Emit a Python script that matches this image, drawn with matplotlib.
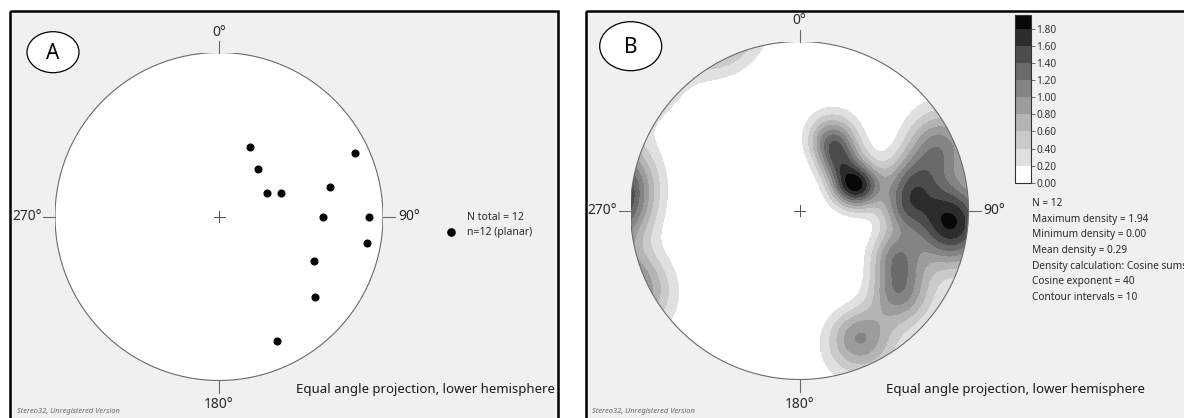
import numpy as np
import matplotlib.pyplot as plt
from matplotlib.patches import Circle, Ellipse, Rectangle

plt.rcParams['font.family'] = ['Noto Sans', 'DejaVu Sans']

W, H = 1184, 418

# planar data: dip direction / dip (degrees)
dip_dir = [204, 219, 244, 249, 245, 255, 270, 270, 280, 295, 310, 335]
dip = [50, 41, 36, 44, 85, 70, 65, 85, 85, 65, 75, 80]

# density contouring (cosine sums)
cos_exponent = 40
density_levels = [0.0, 0.2, 0.4, 0.6, 0.8, 1.0, 1.2, 1.4, 1.6, 1.8]
max_density = 1.94
level_colors = ['#ffffff', '#e0e0e0', '#cacaca', '#b4b4b4', '#9c9c9c',
                '#848484', '#6a6a6a', '#4c4c4c', '#2c2c2c', '#080808']
stats_lines = ['N = 12', 'Maximum density = 1.94', 'Minimum density = 0.00',
               'Mean density = 0.29', 'Density calculation: Cosine sums',
               'Cosine exponent = 40', 'Contour intervals = 10']

TXT = '#2a2a2a'
NET = '#6a6a6a'


def poles(ddir, d):
    trend = np.radians((np.asarray(ddir) + 180) % 360)
    plunge = np.radians(90 - np.asarray(d, dtype=float))
    return trend, plunge


def project(trend, plunge):
    # equal angle (stereographic), lower hemisphere
    r = np.tan((np.pi / 2 - plunge) / 2)
    return r * np.sin(trend), r * np.cos(trend)


def unit_vec(trend, plunge):
    return np.stack([np.cos(plunge) * np.sin(trend),
                     np.cos(plunge) * np.cos(trend),
                     np.sin(plunge)], axis=-1)


def net_axes(cx, cy, R):
    ax = fig.add_axes([(cx - R) / W, (H - cy - R) / H, 2 * R / W, 2 * R / H])
    ax.set_xlim(-1, 1)
    ax.set_ylim(-1, 1)
    ax.axis('off')
    ax.set_zorder(3)
    ax.patch.set_visible(False)
    tick = 12.0 / R
    for a in (0, 90, 180, 270):
        s, c = np.sin(np.radians(a)), np.cos(np.radians(a))
        ax.plot([s, s * (1 + tick)], [c, c * (1 + tick)], color=NET, lw=0.8, clip_on=False)
    cr = 5.5 / R
    ax.plot([-cr, cr], [0, 0], color='#505050', lw=0.7, zorder=6)
    ax.plot([0, 0], [-cr, cr], color='#505050', lw=0.7, zorder=6)
    return ax


fig = plt.figure(figsize=(W / 100, H / 100), dpi=100)
fig.patch.set_facecolor('white')

bg = fig.add_axes([0, 0, 1, 1])
bg.set_xlim(0, W)
bg.set_ylim(H, 0)
bg.axis('off')

panel_a = Rectangle((9.5, 11), 548, 430, fc='#f0f0f0', ec='none')
panel_b = Rectangle((586, 11), 640, 430, fc='#f0f0f0', ec='none')
bg.add_patch(panel_a)
bg.add_patch(panel_b)
for p in (panel_a, panel_b):
    bg.add_patch(Rectangle(p.get_xy(), p.get_width(), p.get_height(),
                           fc='none', ec='black', lw=1.8, zorder=5))

tr, pl = poles(dip_dir, dip)

# ---- panel A: poles to planes
axA = net_axes(219, 216.5, 164)
axA.add_patch(Circle((0, 0), 1, fc='white', ec=NET, lw=0.8))
px, py = project(tr, pl)
axA.plot(px, py, 'o', color='black', ms=4.8, zorder=4)

# ---- panel B: density contours
axB = net_axes(799.5, 210.5, 169)
g = np.linspace(-1, 1, 501)
X, Y = np.meshgrid(g, g)
R = np.hypot(X, Y)
g_plunge = np.pi / 2 - 2 * np.arctan(np.minimum(R, 1.0))
g_trend = np.arctan2(X, Y)
gv = unit_vec(g_trend, g_plunge)
pv = unit_vec(tr, pl)
dens = (np.abs(gv @ pv.T) ** cos_exponent).sum(axis=-1)
dens[R > 1.02] = np.nan

levels = density_levels + [max(max_density, np.nanmax(dens) + 1e-6)]
disk = Circle((0, 0), 1, fc='white', ec='none', transform=axB.transData)
axB.add_patch(Circle((0, 0), 1, fc='white', ec='none'))
cf = axB.contourf(X, Y, dens, levels=levels, colors=level_colors)
cf.set_clip_path(disk)
axB.add_patch(Circle((0, 0), 1, fc='none', ec=NET, lw=0.8, zorder=5))

cax = fig.add_axes([1015 / W, (H - 182.7) / H, 16 / W, (182.7 - 15) / H])
cb = fig.colorbar(cf, cax=cax, ticks=density_levels, spacing='proportional')
cb.ax.set_yticklabels([f'{v:.2f}' for v in density_levels])
cb.ax.tick_params(length=3, width=0.6, color='#555555', labelsize=7.3,
                  labelcolor='#333333', pad=1)
cb.outline.set_edgecolor('#333333')
cb.outline.set_linewidth(0.8)

# ---- labels
lab = dict(fontsize=10, color=TXT, va='center')
bg.text(219, 33, '0°', ha='center', **lab)
bg.text(398, 216.5, '90°', ha='left', **lab)
bg.text(42, 216.5, '270°', ha='right', **lab)
bg.text(219, 404, '180°', ha='center', **lab)

bg.text(799.5, 20, '0°', ha='center', **lab)
bg.text(983, 210.5, '90°', ha='left', **lab)
t270 = bg.text(617, 210.5, '270°', ha='right', **lab)
t270.set_clip_path(panel_b)
bg.text(799.5, 404, '180°', ha='center', **lab)

bg.plot([451], [232], 'o', color='black', ms=5.2)
bg.text(467, 217, 'N total = 12', fontsize=7.5, color=TXT, va='center')
bg.text(467, 232, 'n=12 (planar)', fontsize=7.5, color=TXT, va='center')

for i, s in enumerate(stats_lines):
    bg.text(1032.5, 203.5 + i * 15.65, s, fontsize=7.3, color=TXT, va='center')

for x in (555, 1145):
    bg.text(x, 389.5, 'Equal angle projection, lower hemisphere', fontsize=9.5,
            color='#1a1a1a', ha='right', va='center')
for x in (17, 592):
    bg.text(x, 411.5, 'Stereo32, Unregistered Version', fontsize=5.4,
            style='italic', color='#666666', va='center')

for (cx, cy, w, h, s) in [(53, 52.2, 52, 41, 'A'), (630.7, 46.2, 62, 49, 'B')]:
    bg.add_patch(Ellipse((cx, cy), w, h, fc='white', ec='black', lw=0.9, zorder=4))
    bg.text(cx, cy + 1, s, fontsize=15, color='black', ha='center', va='center', zorder=6)

fig.savefig('out.png', dpi=100)
